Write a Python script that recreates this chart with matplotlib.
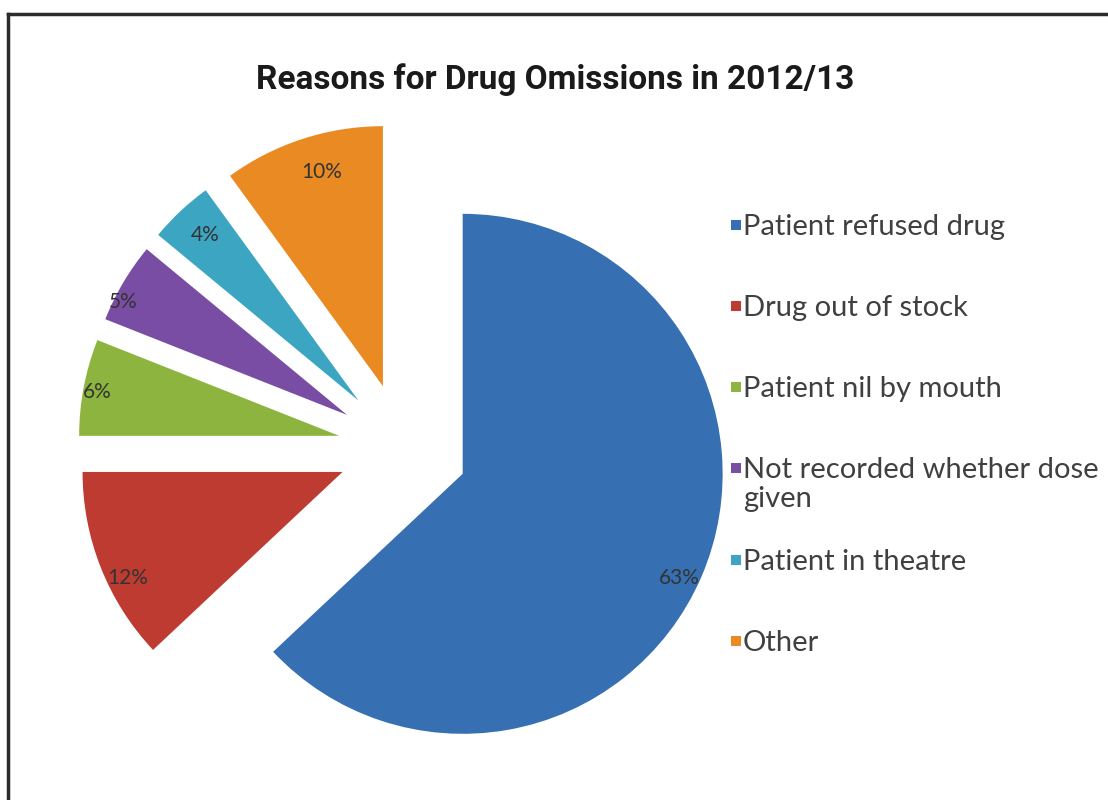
import matplotlib
matplotlib.use("Agg")
import matplotlib.pyplot as plt
from matplotlib.patches import Rectangle
from matplotlib.lines import Line2D
import numpy as np

# ---------------- data ----------------
title = "Reasons for Drug Omissions in 2012/13"
categories = ["Patient refused drug", "Drug out of stock", "Patient nil by mouth",
              "Not recorded whether dose\ngiven", "Patient in theatre", "Other"]
values = [63, 12, 6, 5, 4, 10]
colors = ["#3670B2", "#BE3B31", "#8CB43E", "#7A4DA5", "#3CA6C2", "#E98A22"]

# ---------------- layout (pixel units) ----------------
W, H = 1108, 800
fig = plt.figure(figsize=(W / 100, H / 100), dpi=100)
fig.patch.set_facecolor("white")
ax = fig.add_axes([0, 0, 1, 1])

radius = 260
center = (403, H - 448)
explode = [65] * len(values)

wedges, texts, autotexts = ax.pie(
    values, colors=colors, startangle=90, counterclock=False,
    radius=radius, center=center, explode=explode,
    autopct=lambda p: f"{p:.0f}%", pctdistance=0.9,
    wedgeprops=dict(linewidth=0),
    textprops=dict(fontsize=15, color="#333333", family=["Lato", "DejaVu Sans"]))

ax.set_xlim(0, W)
ax.set_ylim(0, H)
ax.set_aspect("equal")
ax.axis("off")

# place percentage labels near the outer edge like Excel's "inside end"
label_dist = [0.925, 0.92, 0.946, 0.965, 0.868, 0.856]
label_angle_nudge = [-2.2, 4.6, 0.5, 3.8, -0.5, -2.1]
for w, t, d, da in zip(wedges, autotexts, label_dist, label_angle_nudge):
    ang = np.deg2rad((w.theta1 + w.theta2) / 2 + da)
    cx, cy = w.center
    t.set_position((cx + d * w.r * np.cos(ang), cy + d * w.r * np.sin(ang)))
    t.set_ha("center")
    t.set_va("center")

# ---------------- legend (manual, Excel-like) ----------------
leg_font = 21
marker_x = 731
text_x = 743
y = 225
step = 81
extra_line = 11
msize = 10
for col, lab in zip(colors, categories):
    ax.add_patch(Rectangle((marker_x, H - y - msize / 2), msize, msize,
                           facecolor=col, edgecolor="none"))
    ax.text(text_x, H - y + 11, lab, ha="left", va="top", fontsize=leg_font,
            color="#404040", family=["Lato", "DejaVu Sans"], linespacing=1.15)
    y += step + extra_line * lab.count("\n")

# ---------------- title ----------------
fig.text(555 / W, 1 - 80 / H, title, ha="center", va="center", fontsize=24,
         fontweight="bold", color="#1a1a1a",
         family=["Roboto", "DejaVu Sans"])

# ---------------- frame border ----------------
fig.add_artist(Line2D([8 / W, 8 / W], [0, 1 - 14 / H], transform=fig.transFigure,
                      color="#2b2b2b", lw=2.5))
fig.add_artist(Line2D([8 / W, 1], [1 - 14 / H, 1 - 14 / H], transform=fig.transFigure,
                      color="#2b2b2b", lw=2.5))

fig.savefig("out.png", dpi=100, facecolor="white")
